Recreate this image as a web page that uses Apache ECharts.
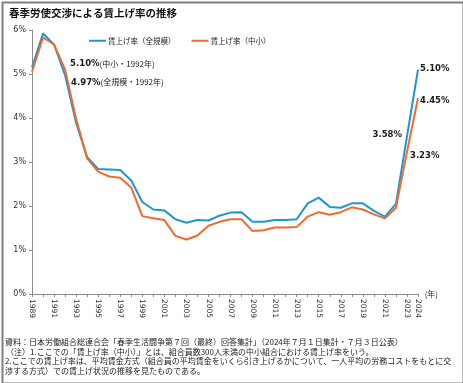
<!DOCTYPE html>
<html><head><meta charset="utf-8">
<script src="https://cdn.jsdelivr.net/npm/echarts@6/dist/echarts.min.js"></script>
<style>html,body{margin:0;padding:0;background:#fff}#c{width:463px;height:383px}</style>
</head><body><div id="c"></div>
<script>
const years = ['1989','1990','1991','1992','1993','1994','1995','1996','1997','1998','1999','2000','2001','2002','2003','2004','2005','2006','2007','2008','2009','2010','2011','2012','2013','2014','2015','2016','2017','2018','2019','2020','2021','2022','2023','2024'];
const allSizes = [5.15,5.92,5.67,4.97,3.89,3.11,2.84,2.83,2.82,2.58,2.09,1.92,1.90,1.70,1.62,1.68,1.67,1.78,1.85,1.86,1.64,1.64,1.68,1.68,1.70,2.06,2.19,1.98,1.96,2.06,2.06,1.89,1.76,2.05,3.58,5.10];
const smallMid = [5.05,5.83,5.67,5.10,3.98,3.08,2.78,2.67,2.64,2.42,1.77,1.72,1.68,1.32,1.24,1.33,1.55,1.64,1.70,1.70,1.43,1.45,1.51,1.51,1.52,1.76,1.86,1.80,1.86,1.97,1.92,1.81,1.72,1.96,3.23,4.45];
const yTicks = [0,1,2,3,4,5,6];
const seriesNames = ['賃上げ率（全規模）','賃上げ率（中小）'];
const notes = [
  '資料：日本労働組合総連合会「春季生活闘争第７回（最終）回答集計」（2024年７月１日集計・７月３日公表）',
  '（注）1.ここでの「賃上げ率（中小）」とは、組合員数300人未満の中小組合における賃上げ率をいう。',
  '2.ここでの賃上げ率は、平均賃金方式（組合員の平均賃金をいくら引き上げるかについて、一人平均の労務コストをもとに交',
  '渉する方式）での賃上げ状況の推移を見たものである。'
];

const LAT = 'DejaVu Sans, Noto Sans CJK JP, sans-serif';
const CJK = 'Noto Sans CJK JP, DejaVu Sans, sans-serif';
const blue = '#1E96D4', orange = '#F26A2C';

const richStyles = {
  b: {fontFamily: LAT, fontWeight: 'bold', fontSize: 8.5, color: '#1a1a1a'},
  n: {fontFamily: CJK, fontSize: 8, color: '#1a1a1a'}
};
function lab(text, position, offset, distance) {
  return {show: true, formatter: text, position: position, offset: offset, distance: distance || 3, rich: richStyles};
}
const blueLabels = {3: lab('{b|4.97%}{n|(全規模・1992年)}', 'right', [1, 7], 5),
                    34: lab('{b|3.58%}', 'left', [0, -2], 5),
                    35: lab('{b|5.10%}', 'right', [0, -1], 2)};
const orangeLabels = {3: lab('{b|5.10%}{n|(中小・1992年)}', 'right', [0, -6], 5),
                      34: lab('{b|3.23%}', 'right', [0, 4], 3),
                      35: lab('{b|4.45%}', 'right', [0, 3], 2)};
function build(arr, labels) {
  return arr.map((v, i) => labels[i] ? {value: v, label: labels[i]} : v);
}

const chart = echarts.init(document.getElementById('c'));
chart.setOption({
  animation: false,
  backgroundColor: '#fff',
  title: {text: '春季労使交渉による賃上げ率の推移', left: 4, top: 3,
    textStyle: {fontFamily: CJK, fontWeight: 'bold', fontSize: 10.5, color: '#111'}},
  legend: {left: 84, top: 32, itemWidth: 17, itemHeight: 2, itemGap: 16, icon: 'rect',
    data: seriesNames,
    textStyle: {fontFamily: CJK, fontSize: 7.5, color: '#222', padding: [0,0,0,-3]}},
  grid: {left: 32, right: 45, top: 30, bottom: 89},
  xAxis: {type: 'category', data: years, boundaryGap: false,
    name: '(年)', nameLocation: 'end', nameGap: 4,
    nameTextStyle: {fontFamily: CJK, fontSize: 8, color: '#333', verticalAlign: 'middle', padding: [0,0,3,0]},
    axisLine: {lineStyle: {color: '#8c8c8c', width: 1}},
    axisTick: {show: true, interval: 0, length: 3, lineStyle: {color: '#8c8c8c'}},
    axisLabel: {rotate: -90, fontFamily: LAT, fontSize: 7.5, color: '#333', margin: 5,
      interval: (i) => i % 2 === 0 || i === years.length - 1}},
  yAxis: {type: 'value', min: yTicks[0], max: yTicks[yTicks.length - 1], interval: 1,
    axisLine: {show: true, lineStyle: {color: '#8c8c8c', width: 1}},
    axisTick: {show: true, length: 3, lineStyle: {color: '#8c8c8c'}},
    splitLine: {show: false},
    axisLabel: {formatter: '{value}%', fontFamily: LAT, fontSize: 8, color: '#333', margin: 6}},
  series: [
    {name: seriesNames[0], type: 'line', data: build(allSizes, blueLabels), showSymbol: true, symbol: 'circle', symbolSize: 0,
      lineStyle: {color: blue, width: 2}, itemStyle: {color: blue}, z: 2},
    {name: seriesNames[1], type: 'line', data: build(smallMid, orangeLabels), showSymbol: true, symbol: 'circle', symbolSize: 0,
      lineStyle: {color: orange, width: 2}, itemStyle: {color: orange}, z: 3}
  ],
  graphic: [
    {type: 'rect', left: 0, top: 0, shape: {x: 1, y: 1, width: 461, height: 381},
      style: {fill: 'none', stroke: '#7f7f7f', lineWidth: 2}, silent: true},
    ...notes.map((t, i) => ({type: 'text', left: i === 1 ? 6 : 5, top: 338 + i * 9.7,
      style: {text: t, fontFamily: CJK, fontSize: 8, fill: '#1a1a1a'}}))
  ]
});
</script></body></html>
